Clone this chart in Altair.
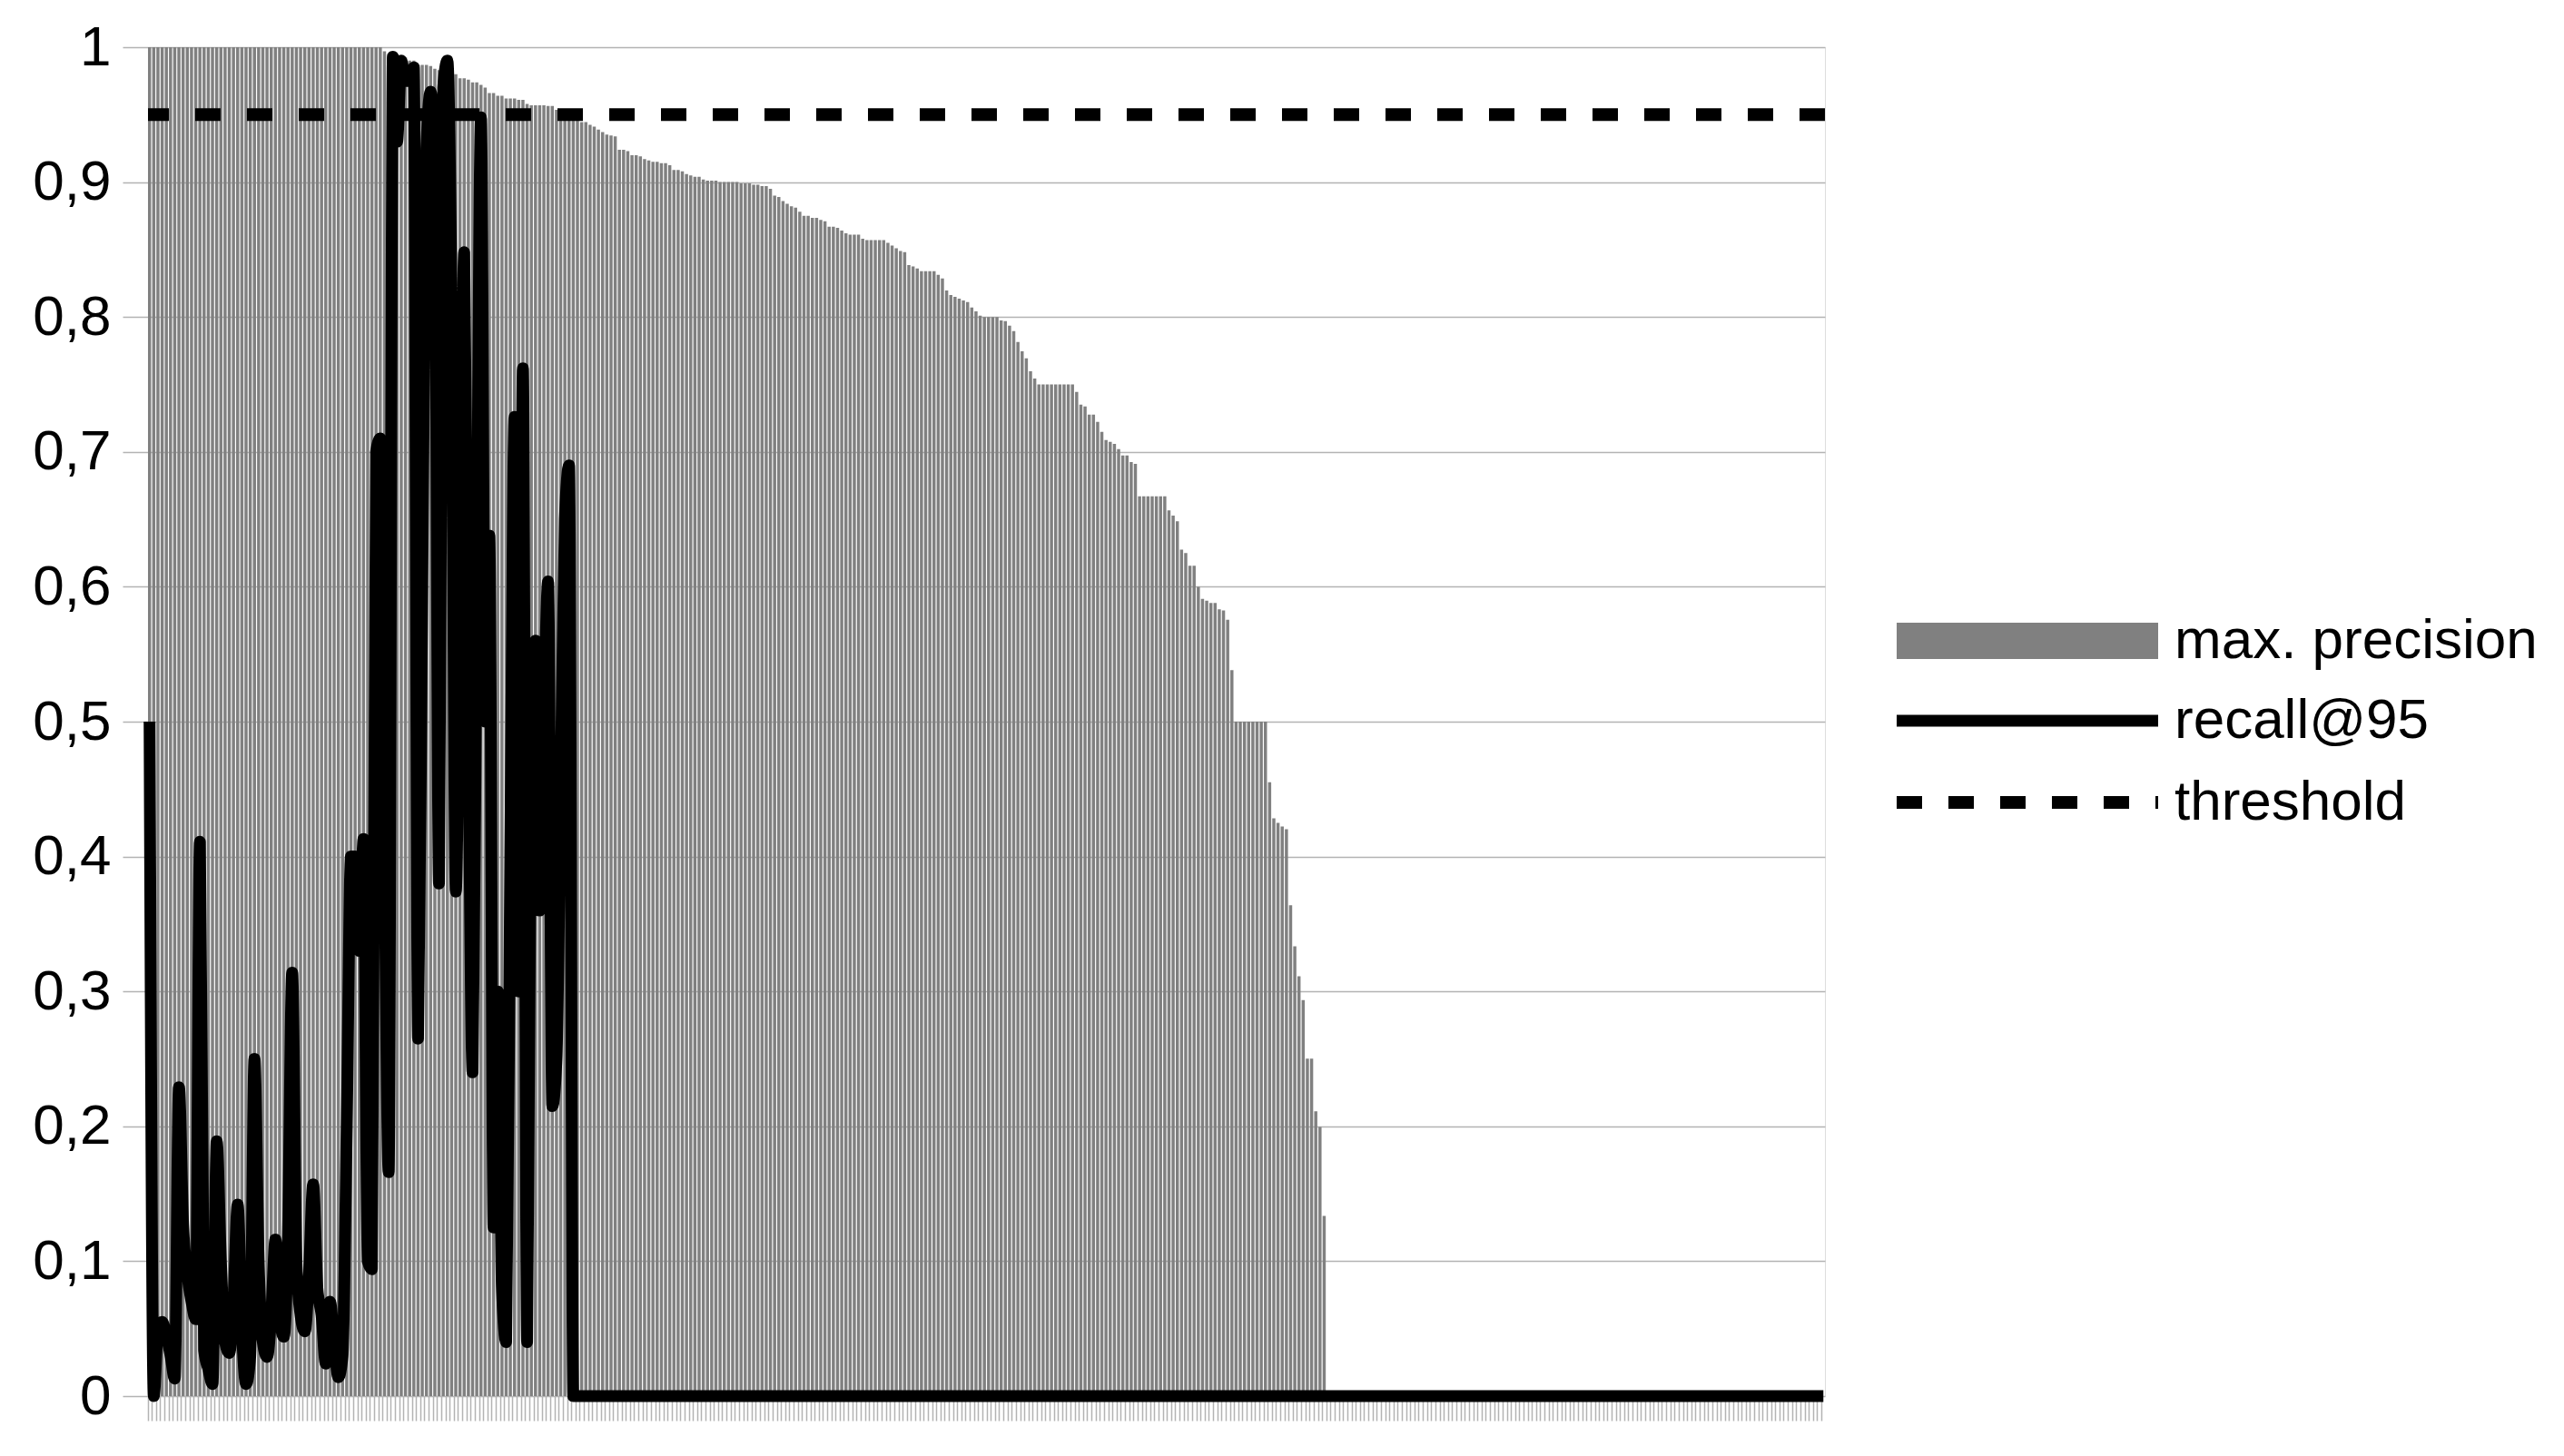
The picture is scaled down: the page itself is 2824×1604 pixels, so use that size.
import altair as alt
import pandas as pd

# ---- data ----
precision = [
    1.0, 1.0, 1.0, 1.0, 1.0, 1.0, 1.0, 1.0, 1.0, 1.0,
    1.0, 1.0, 1.0, 1.0, 1.0, 1.0, 1.0, 1.0, 1.0, 1.0,
    1.0, 1.0, 1.0, 1.0, 1.0, 1.0, 1.0, 1.0, 1.0, 1.0,
    1.0, 1.0, 1.0, 1.0, 1.0, 1.0, 1.0, 1.0, 1.0, 1.0,
    1.0, 1.0, 1.0, 1.0, 1.0, 1.0, 1.0, 1.0, 1.0, 1.0,
    1.0, 1.0, 1.0, 1.0, 1.0, 1.0, 0.997, 0.995, 0.994, 0.993,
    0.9924, 0.9924, 0.990, 0.990, 0.9868, 0.9868, 0.9868, 0.986, 0.984, 0.983,
    0.982, 0.981, 0.981, 0.980, 0.977, 0.977, 0.976, 0.974, 0.974, 0.972,
    0.970, 0.966, 0.966, 0.964, 0.964, 0.962, 0.962, 0.962, 0.961, 0.961,
    0.958, 0.957, 0.957, 0.957, 0.957, 0.9565, 0.9565, 0.9536, 0.9536, 0.951,
    0.950, 0.948, 0.946, 0.9445, 0.9445, 0.9424, 0.9411, 0.9389, 0.937, 0.9352,
    0.9345, 0.9339, 0.924, 0.924, 0.923, 0.920, 0.920, 0.919, 0.917, 0.916,
    0.915, 0.915, 0.914, 0.914, 0.9125, 0.909, 0.909, 0.908, 0.906, 0.905,
    0.904, 0.904, 0.902, 0.901, 0.901, 0.901, 0.900, 0.900, 0.900, 0.900,
    0.900, 0.899, 0.899, 0.899, 0.898, 0.898, 0.897, 0.897, 0.895, 0.890,
    0.889, 0.886, 0.884, 0.882, 0.881, 0.878, 0.875, 0.875, 0.8735, 0.8735,
    0.872, 0.871, 0.867, 0.867, 0.866, 0.864, 0.862, 0.861, 0.861, 0.861,
    0.858, 0.857, 0.857, 0.857, 0.857, 0.857, 0.855, 0.853, 0.851, 0.849,
    0.848, 0.8385, 0.8374, 0.836, 0.834, 0.834, 0.834, 0.834, 0.8312, 0.8286,
    0.8197, 0.8163, 0.815, 0.8136, 0.8123, 0.811, 0.807, 0.8042, 0.801, 0.800,
    0.800, 0.800, 0.800, 0.7975, 0.797, 0.7935, 0.7895, 0.7814, 0.7746, 0.7693,
    0.7598, 0.7544, 0.750, 0.750, 0.750, 0.750, 0.750, 0.750, 0.750, 0.750,
    0.750, 0.7444, 0.735, 0.7336, 0.7276, 0.7276, 0.7222, 0.7148, 0.7087, 0.7074,
    0.706, 0.702, 0.6973, 0.6973, 0.6925, 0.6912, 0.667, 0.667, 0.667, 0.667,
    0.667, 0.667, 0.667, 0.6567, 0.6527, 0.6486, 0.6275, 0.625, 0.6155, 0.6155,
    0.600, 0.591, 0.5897, 0.588, 0.588, 0.5833, 0.5824, 0.5755, 0.5382, 0.500,
    0.500, 0.500, 0.500, 0.500, 0.500, 0.500, 0.500, 0.455, 0.4283, 0.4249,
    0.4223, 0.4202, 0.3639, 0.3335, 0.3112, 0.2936, 0.2502, 0.2502, 0.2112, 0.1996,
    0.1335, 0.0, 0.0, 0.0, 0.0, 0.0, 0.0, 0.0, 0.0, 0.0,
    0.0, 0.0, 0.0, 0.0, 0.0, 0.0, 0.0, 0.0, 0.0, 0.0,
    0.0, 0.0, 0.0, 0.0, 0.0, 0.0, 0.0, 0.0, 0.0, 0.0,
    0.0, 0.0, 0.0, 0.0, 0.0, 0.0, 0.0, 0.0, 0.0, 0.0,
    0.0, 0.0, 0.0, 0.0, 0.0, 0.0, 0.0, 0.0, 0.0, 0.0,
    0.0, 0.0, 0.0, 0.0, 0.0, 0.0, 0.0, 0.0, 0.0, 0.0,
    0.0, 0.0, 0.0, 0.0, 0.0, 0.0, 0.0, 0.0, 0.0, 0.0,
    0.0, 0.0, 0.0, 0.0, 0.0, 0.0, 0.0, 0.0, 0.0, 0.0,
    0.0, 0.0, 0.0, 0.0, 0.0, 0.0, 0.0, 0.0, 0.0, 0.0,
    0.0, 0.0, 0.0, 0.0, 0.0, 0.0, 0.0, 0.0, 0.0, 0.0,
    0.0, 0.0, 0.0, 0.0, 0.0, 0.0, 0.0, 0.0, 0.0, 0.0,
    0.0, 0.0, 0.0, 0.0, 0.0, 0.0, 0.0, 0.0, 0.0, 0.0,
]

recall = [
    0.50, 0.00, 0.05, 0.055, 0.045, 0.03, 0.013, 0.229, 0.127, 0.09,
    0.07, 0.057, 0.411, 0.034, 0.02, 0.009, 0.189, 0.10, 0.04, 0.032,
    0.07, 0.142, 0.05, 0.009, 0.03, 0.25, 0.10, 0.04, 0.029, 0.06,
    0.116, 0.06, 0.044, 0.12, 0.314, 0.10, 0.06, 0.048, 0.09, 0.157,
    0.08, 0.06, 0.024, 0.07, 0.04, 0.014, 0.03, 0.20, 0.40, 0.40,
    0.33, 0.413, 0.10, 0.094, 0.70, 0.71, 0.40, 0.166, 0.993, 0.93,
    0.99, 0.975, 0.975, 0.985, 0.265, 0.60, 0.925, 0.967, 0.90, 0.38,
    0.97, 0.99, 0.80, 0.374, 0.60, 0.848, 0.50, 0.24, 0.60, 0.948,
    0.50, 0.638, 0.125, 0.30, 0.08, 0.04, 0.40, 0.726, 0.30, 0.762,
    0.04, 0.50, 0.56, 0.36, 0.50, 0.604, 0.215, 0.25, 0.45, 0.65,
    0.69, 0.0, 0.0, 0.0, 0.0, 0.0, 0.0, 0.0, 0.0, 0.0,
    0.0, 0.0, 0.0, 0.0, 0.0, 0.0, 0.0, 0.0, 0.0, 0.0,
    0.0, 0.0, 0.0, 0.0, 0.0, 0.0, 0.0, 0.0, 0.0, 0.0,
    0.0, 0.0, 0.0, 0.0, 0.0, 0.0, 0.0, 0.0, 0.0, 0.0,
    0.0, 0.0, 0.0, 0.0, 0.0, 0.0, 0.0, 0.0, 0.0, 0.0,
    0.0, 0.0, 0.0, 0.0, 0.0, 0.0, 0.0, 0.0, 0.0, 0.0,
    0.0, 0.0, 0.0, 0.0, 0.0, 0.0, 0.0, 0.0, 0.0, 0.0,
    0.0, 0.0, 0.0, 0.0, 0.0, 0.0, 0.0, 0.0, 0.0, 0.0,
    0.0, 0.0, 0.0, 0.0, 0.0, 0.0, 0.0, 0.0, 0.0, 0.0,
    0.0, 0.0, 0.0, 0.0, 0.0, 0.0, 0.0, 0.0, 0.0, 0.0,
    0.0, 0.0, 0.0, 0.0, 0.0, 0.0, 0.0, 0.0, 0.0, 0.0,
    0.0, 0.0, 0.0, 0.0, 0.0, 0.0, 0.0, 0.0, 0.0, 0.0,
    0.0, 0.0, 0.0, 0.0, 0.0, 0.0, 0.0, 0.0, 0.0, 0.0,
    0.0, 0.0, 0.0, 0.0, 0.0, 0.0, 0.0, 0.0, 0.0, 0.0,
    0.0, 0.0, 0.0, 0.0, 0.0, 0.0, 0.0, 0.0, 0.0, 0.0,
    0.0, 0.0, 0.0, 0.0, 0.0, 0.0, 0.0, 0.0, 0.0, 0.0,
    0.0, 0.0, 0.0, 0.0, 0.0, 0.0, 0.0, 0.0, 0.0, 0.0,
    0.0, 0.0, 0.0, 0.0, 0.0, 0.0, 0.0, 0.0, 0.0, 0.0,
    0.0, 0.0, 0.0, 0.0, 0.0, 0.0, 0.0, 0.0, 0.0, 0.0,
    0.0, 0.0, 0.0, 0.0, 0.0, 0.0, 0.0, 0.0, 0.0, 0.0,
    0.0, 0.0, 0.0, 0.0, 0.0, 0.0, 0.0, 0.0, 0.0, 0.0,
    0.0, 0.0, 0.0, 0.0, 0.0, 0.0, 0.0, 0.0, 0.0, 0.0,
    0.0, 0.0, 0.0, 0.0, 0.0, 0.0, 0.0, 0.0, 0.0, 0.0,
    0.0, 0.0, 0.0, 0.0, 0.0, 0.0, 0.0, 0.0, 0.0, 0.0,
    0.0, 0.0, 0.0, 0.0, 0.0, 0.0, 0.0, 0.0, 0.0, 0.0,
    0.0, 0.0, 0.0, 0.0, 0.0, 0.0, 0.0, 0.0, 0.0, 0.0,
    0.0, 0.0, 0.0, 0.0, 0.0, 0.0, 0.0, 0.0, 0.0, 0.0,
    0.0, 0.0, 0.0, 0.0, 0.0, 0.0, 0.0, 0.0, 0.0, 0.0,
    0.0, 0.0, 0.0, 0.0, 0.0, 0.0, 0.0, 0.0, 0.0, 0.0,
    0.0, 0.0, 0.0, 0.0, 0.0, 0.0, 0.0, 0.0, 0.0, 0.0,
]

threshold = [0.95]
series_names = ["max. precision", "recall@95", "threshold"]
y_ticks = [0, 0.1, 0.2, 0.3, 0.4, 0.5, 0.6, 0.7, 0.8, 0.9, 1]

n = len(precision)
df = pd.DataFrame({
    "idx": list(range(n)),
    "precision": precision,
    "recall": recall[:n],
    "p_series": [series_names[0]] * n,
    "r_series": [series_names[1]] * n,
})
df_t = pd.DataFrame({"threshold": threshold, "t_series": [series_names[2]]})

GRID = "#b3b3b3"
FONT = "Liberation Sans"
FS = 62
LX = 2039
LAB_OFF = 131


def legend(y, sym_type, **kw):
    return alt.Legend(title=None, orient="none", legendX=LX, legendY=y,
                      symbolType=sym_type, symbolSize=1600,
                      labelOffset=LAB_OFF, labelFont=FONT, labelFontSize=FS,
                      labelColor="black", labelLimit=0, padding=0, **kw)


x_enc = alt.X(
    "idx:O",
    scale=alt.Scale(paddingInner=0.25, paddingOuter=0),
    axis=alt.Axis(labels=False, title=None, bandPosition=0, tickSize=27,
                  tickColor=GRID, tickWidth=1.5, domain=False, grid=False),
)
y_scale = alt.Scale(domain=[0, 1], nice=False)
y_axis = alt.Axis(values=y_ticks,
                  labelExpr="replace(format(datum.value, '.1~f'), '.', ',')",
                  tickSize=28, tickColor=GRID, tickWidth=1.5,
                  grid=True, gridColor=GRID, gridWidth=1.5,
                  domain=False, labelFontSize=FS, labelFont=FONT,
                  labelColor="black", labelPadding=13, title=None)

bars = alt.Chart(df).mark_bar().encode(
    x=x_enc,
    y=alt.Y("precision:Q", scale=y_scale, axis=y_axis),
    fill=alt.Fill("p_series:N",
                  scale=alt.Scale(domain=[series_names[0]], range=["#808080"]),
                  legend=legend(623, "M-7.2,-1L7.2,-1L7.2,1L-7.2,1Z",
                                symbolStrokeWidth=0, symbolFillColor="#808080")),
)

thr = alt.Chart(df_t).mark_rule(color="black", strokeWidth=14, strokeCap="butt").encode(
    y=alt.Y("threshold:Q", scale=y_scale),
    strokeDash=alt.StrokeDash("t_series:N",
                              scale=alt.Scale(domain=[series_names[2]], range=[[28, 29]]),
                              legend=legend(801, "M-7.2,0L7.2,0",
                                            symbolStrokeWidth=14, symbolStrokeColor="black",
                                            symbolFillColor="transparent")),
)

line = alt.Chart(df).mark_line(interpolate="monotone", strokeWidth=13,
                               strokeCap="butt", strokeJoin="round").encode(
    x=x_enc,
    y=alt.Y("recall:Q", scale=y_scale),
    stroke=alt.Stroke("r_series:N",
                      scale=alt.Scale(domain=[series_names[1]], range=["black"]),
                      legend=legend(711, "M-7.2,0L7.2,0",
                                    symbolStrokeWidth=13, symbolStrokeColor="black",
                                    symbolFillColor="transparent")),
)

chart = alt.layer(bars, thr, line).properties(
    width=1847, height=1486,
    autosize=alt.AutoSizeParams(type="none"),
    padding={"left": 155, "top": 44, "right": 806, "bottom": 50},
).configure_view(stroke=None).configure(font=FONT)

chart.save("out.html", embed_options={"renderer": "svg", "actions": False})
